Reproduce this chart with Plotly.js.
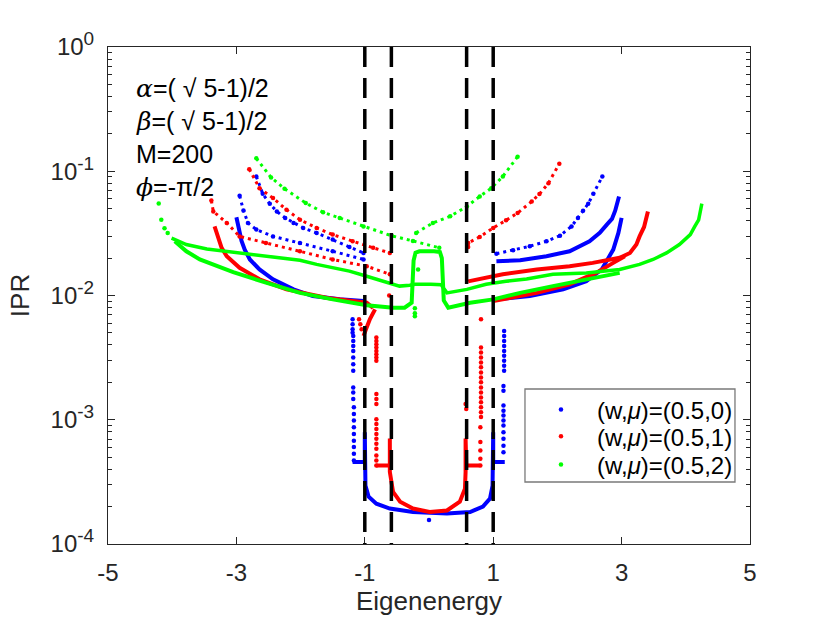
<!DOCTYPE html>
<html><head><meta charset="utf-8">
<script src="https://cdn.plot.ly/plotly-3.0.1.min.js"></script>
<style>html,body{margin:0;padding:0;background:#fff}#chart{width:830px;height:623px}</style>
</head><body><div id="chart"></div>
<script>
// ---------- tick labels ----------
const xTickVals = [-5, -3, -1, 1, 3, 5];
const xTickText = ['-5', '-3', '-1', '1', '3', '5'];
const yTickVals = [1, 0.1, 0.01, 0.001, 0.0001];
const yTickExp = ['0', '-1', '-2', '-3', '-4'];
const yTickText = yTickExp.map(e => '10<sup><span style="font-size:19px">' + e + '</span></sup>');
const dashX = [-1, -0.586, 0.586, 1];
const seriesNames = ['(w,<i>μ</i>)=(0.5,0)', '(w,<i>μ</i>)=(0.5,1)', '(w,<i>μ</i>)=(0.5,2)'];
const paramLines = [
  '<span style="font-family:\'DejaVu Serif\';font-style:italic">α</span>=( √ 5-1)/2',
  '<span style="font-family:\'DejaVu Serif\';font-style:italic">β</span>=( √ 5-1)/2',
  'M=200',
  '<span style="font-family:\'DejaVu Serif\';font-style:italic">ϕ</span>=-π/2'
];

// ---------- blue: (w,mu)=(0.5,0) ----------
const bArmAL_E = [-2.69,-2.59,-2.48,-2.37,-2.24,-2.11,-1.96,-1.75,-1.50,-1.24,-1.02];
const bArmAL_I = [0.0908,0.0659,0.0548,0.0475,0.0421,0.0384,0.0350,0.0319,0.0282,0.0246,0.0220];
const bArmBL_E = [-2.95,-2.89,-2.82,-2.69,-2.43,-2.01,-1.50,-1.02];
const bArmBL_I = [0.0635,0.0484,0.0384,0.0339,0.0299,0.0265,0.0227,0.0195];
const bArmCL_E = [-3.00,-2.95,-2.92,-2.87,-2.79,-2.64,-2.43,-2.11,-1.81,-1.39,-1.02];
const bArmCL_I = [0.0426,0.0319,0.0275,0.0234,0.0195,0.0162,0.0135,0.0112,0.00989,0.00933,0.00902];
const bArmAR_E = [1.05,1.31,1.57,1.83,2.04,2.22,2.32,2.40,2.48,2.56,2.70];
const bArmAR_I = [0.0217,0.0231,0.0249,0.0273,0.0303,0.036,0.0421,0.0481,0.0548,0.0659,0.0908];
const bArmBR_E = [1.05,1.42,1.83,2.19,2.50,2.66,2.77,2.85,2.90,2.96];
const bArmBR_I = [0.0189,0.0192,0.0207,0.0227,0.0273,0.0319,0.0372,0.0413,0.0481,0.0627];
const bArmCR_E = [1.05,1.57,2.09,2.45,2.69,2.79,2.87,2.95,3.00];
const bArmCR_I = [0.00931,0.00989,0.0112,0.013,0.0162,0.0195,0.0234,0.0319,0.0421];
const bColL_E = [-1.19,-1.19,-1.19,-1.19,-1.18,-1.18,-1.18,-1.18,-1.18,-1.18,-1.18,-1.18,-1.18,-1.18,-1.17,-1.17,-1.17,-1.17,-1.17,-1.17,-1.17,-1.17,-1.17];
const bColL_I = [0.00643,0.00586,0.00535,0.00502,0.00472,0.00431,0.00393,0.00358,0.00317,0.0028,0.00248,0.00182,0.00166,0.00147,0.00126,0.00111,0.000984,0.000871,0.000769,0.000679,0.000603,0.000532,0.00047];
const bColR_E = [1.17,1.17,1.17,1.17,1.17,1.17,1.17,1.17,1.17,1.16,1.16,1.16,1.16,1.16,1.16,1.16,1.16,1.16,1.16,1.16];
const bColR_I = [0.00519,0.00472,0.00431,0.00393,0.00358,0.00327,0.00298,0.00272,0.00248,0.00187,0.00171,0.0013,0.00118,0.00108,0.000984,0.000897,0.000794,0.000702,0.000619,0.000548];
const bBottom_E = [-1.19,-1.00,-1.00,-1.00,-0.99,-0.94,-0.82,-0.61,-0.25,0.28,0.64,0.84,0.95,0.99,1.00,1.00,1.00,1.18];
const bBottom_I = [0.000457,0.000457,0.000794,0.000457,0.000295,0.00024,0.000211,0.000193,0.000181,0.000176,0.000181,0.0002,0.000232,0.000295,0.000457,0.000794,0.000457,0.000457];
const bDot_E = [0.00];
const bDot_I = [0.000156];

// ---------- red: (w,mu)=(0.5,1) ----------
const rArmAL_E = [-2.80,-2.64,-2.43,-2.22,-2.01,-1.75,-1.50,-1.19,-0.87,-0.61];
const rArmAL_I = [0.104,0.0731,0.0608,0.049,0.0407,0.035,0.0309,0.0273,0.0242,0.022];
const rArmBL_E = [-3.39,-3.36,-3.15,-2.95,-2.54,-2.01,-1.50,-0.97,-0.61];
const rArmBL_I = [0.0582,0.0475,0.0384,0.0299,0.0265,0.0227,0.0195,0.0172,0.0148];
const rArmCL_E = [-3.34,-3.28,-3.23,-3.15,-2.95,-2.64,-2.22,-1.58,-0.97,-0.87];
const rArmCL_I = [0.036,0.0282,0.0242,0.0207,0.0167,0.0135,0.0112,0.00955,0.00875,0.00794];
const rDropL_E = [-0.84,-0.92,-0.98,-1.02];
const rDropL_I = [0.00774,0.00646,0.00537,0.00473];
const rArmAR_E = [0.61,0.61,0.79,1.00,1.20,1.38,1.60,1.72,1.86,2.03];
const rArmAR_I = [0.0246,0.0265,0.0296,0.035,0.0403,0.0461,0.0571,0.0655,0.0802,0.115];
const rArmBR_E = [0.61,1.15,1.68,2.19,2.55,2.97,3.13,3.23,3.28,3.35,3.41];
const rArmBR_I = [0.013,0.0148,0.0162,0.0172,0.0183,0.0201,0.022,0.0257,0.0299,0.0356,0.0475];
const rArmCR_E = [1.00,1.68,2.19,2.60,2.87,3.05];
const rArmCR_I = [0.00902,0.0105,0.0123,0.0152,0.0183,0.0207];
const rColL_E = [-0.82,-0.82,-0.82,-0.82,-0.82,-0.82,-0.82,-0.82,-0.82,-0.82,-0.82,-0.82,-0.82,-0.82,-0.82,-0.82,-0.82,-0.82,-0.82,-0.82,-0.82];
const rColL_I = [0.00459,0.00431,0.00406,0.00381,0.00358,0.00337,0.00317,0.00298,0.00161,0.00147,0.00134,0.00101,0.000925,0.000843,0.000769,0.000702,0.00064,0.000583,0.000515,0.00047,0.000429];
const rColR_E = [0.81,0.81,0.81,0.81,0.81,0.81,0.81,0.81,0.81,0.81,0.81,0.81,0.81,0.81,0.81,0.81,0.80,0.80,0.80,0.80,0.80];
const rColR_I = [0.00643,0.00381,0.00348,0.00317,0.00289,0.00264,0.0024,0.00219,0.002,0.00182,0.00166,0.00151,0.00138,0.00126,0.00115,0.00105,0.000871,0.000661,0.000565,0.000485,0.000429];
const rBottom_E = [-0.82,-0.61,-0.61,-0.61,-0.56,-0.45,-0.25,0.01,0.28,0.48,0.56,0.57,0.57,0.58,0.79];
const rBottom_I = [0.000429,0.000429,0.000708,0.00038,0.000263,0.000219,0.000193,0.000181,0.000186,0.000219,0.000279,0.00038,0.000708,0.000429,0.000429];
const rDots_E = [-1.09,-1.07,-1.05,-0.62,0.57,0.58];
const rDots_I = [0.00643,0.00586,0.00535,0.0100,0.00134,0.00122];

// ---------- green: (w,mu)=(0.5,2) ----------
const gUpper_E = [-4.01,-3.78,-3.46,-3.05,-2.54,-2.01,-1.75,-1.50,-1.24,-0.97,-0.71,-0.46,-0.30,-0.22,0.03,0.19,0.24,0.28,0.59,0.89,1.20,1.52,1.93,2.45,2.97,3.28,3.49,3.70,3.90,4.07,4.14,4.20,4.25];
const gUpper_I = [0.029,0.0257,0.0237,0.0223,0.0207,0.0192,0.0178,0.0167,0.0157,0.0143,0.013,0.0119,0.0121,0.0123,0.0123,0.0122,0.0112,0.0105,0.0112,0.0123,0.013,0.0136,0.0148,0.0152,0.0162,0.0178,0.0195,0.022,0.0257,0.0309,0.036,0.0407,0.0548];
const gLower_E = [-3.96,-3.78,-3.57,-3.31,-3.05,-2.54,-2.01,-1.50,-0.97,-0.56,-0.38,-0.27,-0.25,-0.24,-0.21,-0.15,0.08,0.17,0.20,0.22,0.23,0.30,0.64,1.00,1.42,1.93,2.45,2.97];
const gLower_I = [0.0273,0.0227,0.0195,0.0172,0.0154,0.0127,0.0105,0.00931,0.00834,0.00798,0.00798,0.00875,0.0126,0.0191,0.0221,0.0227,0.0227,0.0224,0.02,0.0126,0.00912,0.00798,0.00875,0.00931,0.0105,0.0119,0.0135,0.0152];
const gSparseL_E = [-2.69,-2.46,-2.25,-1.92,-1.65,-1.39,-1.02,-0.58,-0.25,0.16];
const gSparseL_I = [0.127,0.0891,0.0723,0.0555,0.0467,0.0421,0.036,0.0302,0.0275,0.0242];
const gSparseR_E = [-0.20,0.06,0.33,0.59,0.79,0.97,1.15,1.38];
const gSparseR_I = [0.0319,0.0384,0.0434,0.0521,0.0627,0.0731,0.0908,0.131];
const gOuter_E = [-4.21,-4.17,-4.12,-4.07];
const gOuter_I = [0.0551,0.0407,0.0347,0.0319];
const gDots_E = [-0.22,-0.22,-0.22,-0.17];
const gDots_I = [0.0079,0.0072,0.0068,0.0162];

const BLUE = '#0000ff', RED = '#ff0000', GREEN = '#00ff00';
const FONT = 'Liberation Sans, Arial, Helvetica, sans-serif';
const INK = '#262626';
const traces = [];
function dense(x, y, c, w) {
  traces.push({x: x, y: y, type: 'scatter', mode: 'lines', line: {color: c, width: w || 4}, showlegend: false, hoverinfo: 'skip', cliponaxis: false});
}
function sparse(x, y, c) {
  traces.push({x: x, y: y, type: 'scatter', mode: 'lines+markers', line: {color: c, width: 3, dash: '3px,4px'}, marker: {color: c, size: 4.5}, showlegend: false, hoverinfo: 'skip'});
}
function dots(x, y, c, name, legendId) {
  const t = {x: x, y: y, type: 'scatter', mode: 'markers', marker: {color: c, size: 4.5}, showlegend: !!name, hoverinfo: 'skip', cliponaxis: false};
  if (name) { t.name = name; t.legend = legendId; }
  traces.push(t);
}

// blue
dots(bColL_E, bColL_I, BLUE, seriesNames[0], 'legend');
dots(bColR_E, bColR_I, BLUE);
sparse(bArmAL_E, bArmAL_I, BLUE);
sparse(bArmBL_E, bArmBL_I, BLUE);
dense(bArmCL_E, bArmCL_I, BLUE);
sparse(bArmAR_E, bArmAR_I, BLUE);
dense(bArmBR_E, bArmBR_I, BLUE);
dense(bArmCR_E, bArmCR_I, BLUE);
dense(bBottom_E, bBottom_I, BLUE);
dots(bDot_E, bDot_I, BLUE);
// red
dots(rColL_E, rColL_I, RED, seriesNames[1], 'legend2');
dots(rColR_E, rColR_I, RED);
dots(rDots_E, rDots_I, RED);
sparse(rArmAL_E, rArmAL_I, RED);
sparse(rArmBL_E, rArmBL_I, RED);
dense(rArmCL_E, rArmCL_I, RED);
dense(rDropL_E, rDropL_I, RED);
sparse(rArmAR_E, rArmAR_I, RED);
dense(rArmBR_E, rArmBR_I, RED);
dense(rArmCR_E, rArmCR_I, RED);
dense(rBottom_E, rBottom_I, RED);
// green
dots(gOuter_E, gOuter_I, GREEN, seriesNames[2], 'legend3');
dots(gDots_E, gDots_I, GREEN);
sparse(gSparseL_E, gSparseL_I, GREEN);
sparse(gSparseR_E, gSparseR_I, GREEN);
dense(gUpper_E, gUpper_I, GREEN, 3.5);
dense(gLower_E, gLower_I, GREEN, 4);

// minor ticks on the log axis (axis configuration)
const yMinor = [];
for (let d = -4; d < 0; d++) for (let k = 2; k <= 9; k++) yMinor.push(k * Math.pow(10, d));

const shapes = dashX.map(v => ({type: 'line', xref: 'x', yref: 'paper', x0: v, x1: v, y0: 1, y1: 0, layer: 'above',
  line: {color: '#000000', width: 3.5, dash: '20px,11px'}}));
// legend frame
shapes.push({type: 'rect', xref: 'paper', yref: 'paper', x0: 0.6495, x1: 0.9766, y0: 0.1247, y1: 0.3119,
  layer: 'above', fillcolor: '#ffffff', line: {color: '#7a7a7a', width: 1.3}});

const annotations = paramLines.map((t, i) => ({xref: 'paper', yref: 'paper', x: 0.041, y: 0.917 - i * 0.0665,
  xanchor: 'left', yanchor: 'middle', showarrow: false, text: t, font: {family: FONT, size: 25, color: '#000'}}));

const legendBase = {xanchor: 'left', yanchor: 'middle', bgcolor: 'rgba(0,0,0,0)', borderwidth: 0,
  font: {family: FONT, size: 24, color: '#000'}, itemwidth: 62, tracegroupgap: 0};
const legendRowsY = [0.2696, 0.2159, 0.1590];

const layout = {
  width: 830, height: 623,
  margin: {l: 108, r: 80, t: 47, b: 79},
  paper_bgcolor: '#fff', plot_bgcolor: '#fff',
  showlegend: true,
  xaxis: {range: [-5, 5], tickmode: 'array', tickvals: xTickVals, ticktext: xTickText,
    ticks: 'inside', ticklen: 7, tickwidth: 1, tickcolor: INK, showline: true, linecolor: INK, linewidth: 1,
    mirror: 'allticks', showgrid: false, zeroline: false, ticklabelstandoff: 7,
    tickfont: {family: FONT, size: 24, color: INK},
    title: {text: 'Eigenenergy', font: {family: FONT, size: 26, color: INK}, standoff: 7}},
  yaxis: {type: 'log', range: [-4, 0], tickmode: 'array', tickvals: yTickVals, ticktext: yTickText,
    ticks: 'inside', ticklen: 7, tickwidth: 1, tickcolor: INK, showline: true, linecolor: INK, linewidth: 1,
    mirror: 'allticks', showgrid: false, zeroline: false, ticklabelstandoff: 8,
    tickfont: {family: FONT, size: 24, color: INK},
    minor: {tickmode: 'array', tickvals: yMinor, ticks: 'inside', ticklen: 4, tickwidth: 1, tickcolor: INK, showgrid: false},
    title: {text: 'IPR', font: {family: FONT, size: 26, color: INK}, standoff: 13}},
  legend: Object.assign({}, legendBase, {x: 0.6495, y: legendRowsY[0]}),
  legend2: Object.assign({}, legendBase, {x: 0.6495, y: legendRowsY[1]}),
  legend3: Object.assign({}, legendBase, {x: 0.6495, y: legendRowsY[2]}),
  shapes: shapes,
  annotations: annotations
};

Plotly.newPlot('chart', traces, layout, {staticPlot: true, displayModeBar: false});
</script>
</body></html>
